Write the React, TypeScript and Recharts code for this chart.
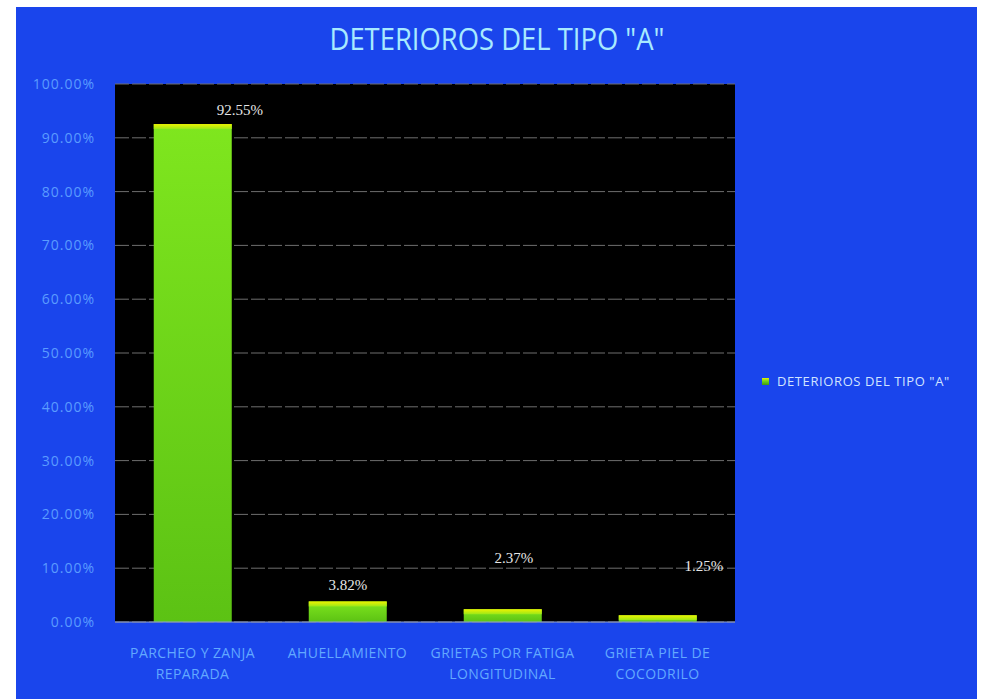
import { BarChart, Bar, XAxis, YAxis, CartesianGrid, Legend, LabelList } from "recharts";

// Distress types, shares of the total (%)
const categories = [
  ["PARCHEO Y ZANJA", "REPARADA"],
  ["AHUELLAMIENTO"],
  ["GRIETAS POR FATIGA", "LONGITUDINAL"],
  ["GRIETA PIEL DE", "COCODRILO"],
];
const shares = [92.55, 3.82, 2.37, 1.25];
const yTicks = [0, 10, 20, 30, 40, 50, 60, 70, 80, 90, 100];
const seriesName = 'DETERIOROS DEL TIPO "A"';

const data = categories.map((lines, i) => ({ key: lines.join(" "), lines, value: shares[i] }));

// data labels sit where the spreadsheet left them, relative to the bar top
const labelNudge = [
  [47, -14],
  [0, -16],
  [11, -51],
  [46, -49],
];

const BG = "#1a45ec";

function CategoryTick({ x, y, payload, index }: any) {
  const lines = data[index]?.lines ?? [payload.value];
  return (
    <text x={x} y={y} textAnchor="middle" fill="#62a9ff" fontSize={14} letterSpacing={0.4} fontFamily="Open Sans">
      {lines.map((l: string, i: number) => (
        <tspan key={i} x={x} dy={i === 0 ? 36 : 21}>
          {l}
        </tspan>
      ))}
    </text>
  );
}

function GlossyBar({ x, y, width, height }: any) {
  if (!height || height <= 0) return null;
  const cap = Math.min(5, height);
  return (
    <g>
      <rect x={x} y={y} width={width} height={height} fill="url(#barBody)" />
      <rect x={x} y={y} width={width} height={cap} fill="url(#barCap)" />
    </g>
  );
}

function ValueLabel({ x, y, width, value, index }: any) {
  const [dx, dy] = labelNudge[index] ?? [0, -12];
  return (
    <text
      x={x + width / 2 + dx}
      y={y + dy}
      dy={5}
      textAnchor="middle"
      fill="#e6e6e6"
      fontSize={15}
      fontFamily="Liberation Serif"
    >
      {value.toFixed(2)}%
    </text>
  );
}

function LegendBox() {
  return (
    <div
      style={{
        display: "flex",
        alignItems: "center",
        fontFamily: "Open Sans",
        fontSize: 13,
        letterSpacing: 0.6,
        color: "#d2e4ff",
        lineHeight: "16px",
        whiteSpace: "nowrap",
      }}
    >
      <span
        style={{
          width: 7,
          height: 7,
          marginRight: 8,
          background: "linear-gradient(#e4f200, #6fd51a 45%, #3f9a0c)",
          display: "inline-block",
        }}
      />
      {seriesName}
    </div>
  );
}

export default function App() {
  return (
    <div style={{ position: "absolute", left: 0, top: 0, width: 985, height: 699, background: "#fff" }}>
      <div style={{ position: "absolute", left: 16, top: 7, width: 961, height: 692, background: BG }}>
        <svg width={961} height={70} style={{ position: "absolute", left: 0, top: 0 }}>
          <text
            x={481}
            y={43}
            textAnchor="middle"
            fill="#a8eaff"
            fontSize={31}
            fontFamily="Open Sans"
            textLength={335}
            lengthAdjust="spacingAndGlyphs"
          >
            {seriesName}
          </text>
        </svg>
        <BarChart
          width={961}
          height={692}
          data={data}
          margin={{ top: 77, right: 242, bottom: 17, left: 9 }}
          barCategoryGap="25%"
        >
          <defs>
            <linearGradient id="barBody" x1="0" y1="0" x2="0" y2="1">
              <stop offset="0%" stopColor="#7fe61e" />
              <stop offset="100%" stopColor="#5cc214" />
            </linearGradient>
            <linearGradient id="barCap" x1="0" y1="0" x2="0" y2="1">
              <stop offset="0%" stopColor="#eef200" />
              <stop offset="100%" stopColor="#9be818" />
            </linearGradient>
          </defs>
          <CartesianGrid vertical={false} fill="#000" stroke="#6e6e6e" strokeDasharray="14 3" />
          <XAxis
            dataKey="key"
            tick={<CategoryTick />}
            tickLine={false}
            tickSize={0}
            tickMargin={0}
            height={60}
            axisLine={{ stroke: "#8fa3d8" }}
            interval={0}
          />
          <YAxis
            domain={[0, 100]}
            ticks={yTicks}
            width={90}
            tickFormatter={(v: number) => `${v.toFixed(2)}%`}
            tick={{ fill: "#5b9cff", fontSize: 14, fontFamily: "Open Sans", letterSpacing: 1 }}
            axisLine={false}
            tickLine={false}
            tickSize={0}
            tickMargin={20}
          />
          <Legend
            layout="vertical"
            align="center"
            verticalAlign="middle"
            content={<LegendBox />}
            wrapperStyle={{ left: 746, top: 366, width: "auto" }}
          />
          <Bar dataKey="value" name={seriesName} shape={<GlossyBar />} isAnimationActive={false}>
            <LabelList dataKey="value" content={<ValueLabel />} />
          </Bar>
        </BarChart>
      </div>
    </div>
  );
}
